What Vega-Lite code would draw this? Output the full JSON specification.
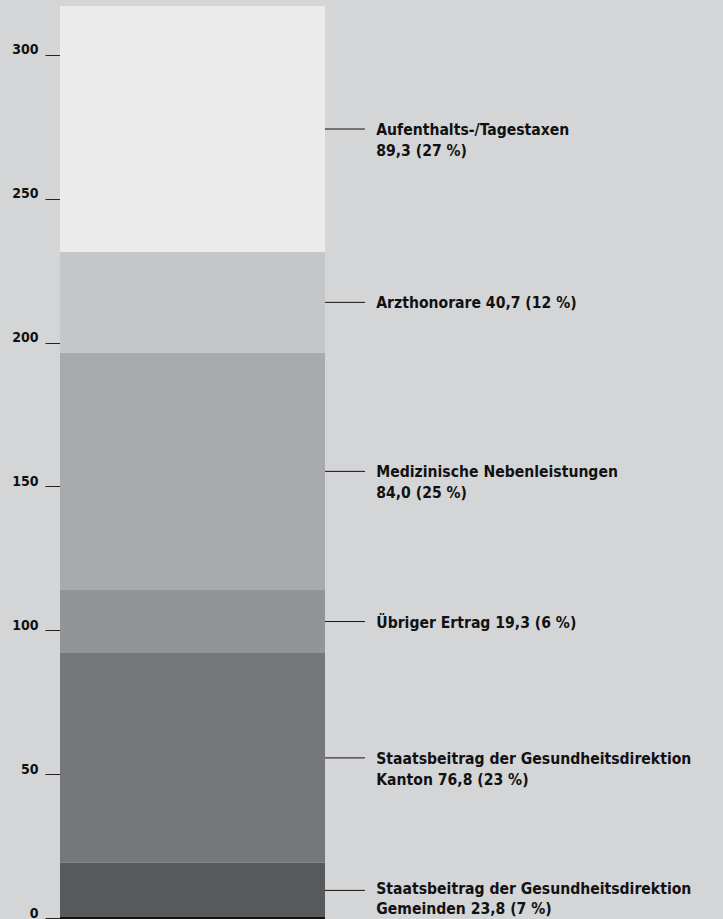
{
  "$schema": "https://vega.github.io/schema/vega-lite/v6.json",
  "width": 663,
  "height": 918,
  "autosize": "none",
  "padding": {"left": 60, "top": 0, "right": 0, "bottom": 1},
  "background": "#d4d5d7",
  "config": {"view": {"stroke": null}, "font": "DejaVu Sans Condensed"},
  "data": {
    "values": [
      {"rang": 1, "kategorie": "Gemeinden", "hoehe": 19.2, "label": ["Staatsbeitrag der Gesundheitsdirektion", "Gemeinden 23,8 (7 %)"]},
      {"rang": 2, "kategorie": "Kanton", "hoehe": 72.9, "label": ["Staatsbeitrag der Gesundheitsdirektion", "Kanton 76,8 (23 %)"]},
      {"rang": 3, "kategorie": "Übriger Ertrag", "hoehe": 21.9, "label": ["Übriger Ertrag 19,3 (6 %)"]},
      {"rang": 4, "kategorie": "Medizinische Nebenleistungen", "hoehe": 82.5, "label": ["Medizinische Nebenleistungen", "84,0 (25 %)"]},
      {"rang": 5, "kategorie": "Arzthonorare", "hoehe": 35.0, "label": ["Arzthonorare 40,7 (12 %)"]},
      {"rang": 6, "kategorie": "Aufenthalts-/Tagestaxen", "hoehe": 85.5, "label": ["Aufenthalts-/Tagestaxen", "89,3 (27 %)"]}
    ]
  },
  "transform": [
    {"stack": "hoehe", "groupby": [], "sort": [{"field": "rang", "order": "ascending"}], "as": ["y0", "y1"]},
    {"calculate": "(datum.y0 + datum.y1) / 2", "as": "ymid"}
  ],
  "layer": [
    {
      "mark": {"type": "bar"},
      "encoding": {
        "x": {"datum": 0, "type": "quantitative", "scale": {"domain": [0, 100], "nice": false, "zero": false}, "axis": null},
        "x2": {"datum": 39.97},
        "y": {
          "field": "y0", "type": "quantitative",
          "scale": {"domain": [0, 319.1], "nice": false},
          "axis": {
            "values": [0, 50, 100, 150, 200, 250, 300],
            "title": null, "domain": false, "grid": false,
            "tickSize": 15, "tickColor": "#222222", "tickWidth": 1,
            "labelPadding": 7, "labelFont": "DejaVu Sans Condensed", "labelFontWeight": "bold",
            "labelFontSize": 14, "labelColor": "#111111", "labelBaseline": "alphabetic", "labelOffset": -1
          }
        },
        "y2": {"field": "y1"},
        "color": {
          "field": "kategorie", "type": "nominal", "legend": null,
          "scale": {
            "domain": ["Gemeinden", "Kanton", "Übriger Ertrag", "Medizinische Nebenleistungen", "Arzthonorare", "Aufenthalts-/Tagestaxen"],
            "range": ["#58595b", "#76777a", "#939496", "#a9aaac", "#c5c6c8", "#ebebeb"]
          }
        }
      }
    },
    {
      "mark": {"type": "rule", "color": "#111111", "strokeWidth": 1},
      "encoding": {
        "x": {"datum": 39.97, "type": "quantitative"},
        "x2": {"datum": 46.0},
        "y": {"field": "ymid", "type": "quantitative"}
      }
    },
    {
      "transform": [{"filter": "datum.rang > 1"}],
      "mark": {"type": "text", "align": "left", "baseline": "alphabetic", "dy": 6, "lineHeight": 21, "font": "DejaVu Sans Condensed", "fontWeight": "bold", "fontSize": 15.6, "color": "#111111"},
      "encoding": {
        "x": {"datum": 47.7, "type": "quantitative"},
        "y": {"field": "ymid", "type": "quantitative"},
        "text": {"field": "label"}
      }
    },
    {
      "transform": [{"filter": "datum.rang == 1"}],
      "mark": {"type": "text", "align": "left", "baseline": "alphabetic", "dy": 3.5, "lineHeight": 20.5, "font": "DejaVu Sans Condensed", "fontWeight": "bold", "fontSize": 15.6, "color": "#111111"},
      "encoding": {
        "x": {"datum": 47.7, "type": "quantitative"},
        "y": {"field": "ymid", "type": "quantitative"},
        "text": {"field": "label"}
      }
    },
    {
      "mark": {"type": "rule", "color": "#111111", "strokeWidth": 1},
      "encoding": {
        "x": {"datum": 0, "type": "quantitative"},
        "x2": {"datum": 39.97},
        "y": {"datum": 0, "type": "quantitative"}
      }
    }
  ]
}
